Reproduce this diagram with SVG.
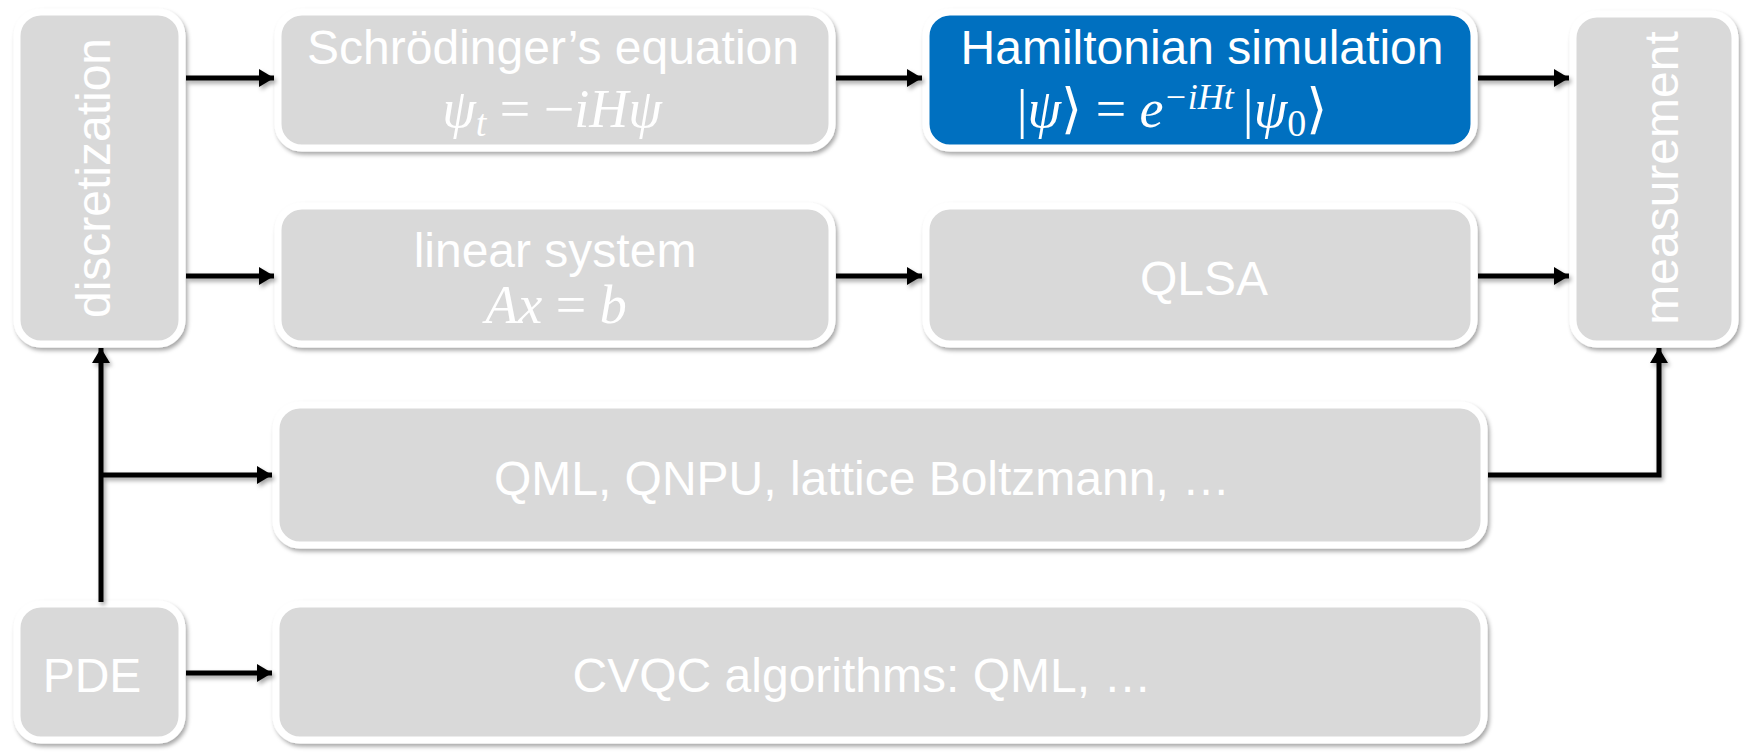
<svg xmlns="http://www.w3.org/2000/svg" width="1752" height="752" viewBox="0 0 1752 752">
<defs>
<filter id="sh" x="-10%" y="-10%" width="120%" height="130%">
<feDropShadow dx="2" dy="3" stdDeviation="2" flood-color="#000" flood-opacity="0.35"/>
</filter>
<marker id="ah" markerUnits="userSpaceOnUse" markerWidth="16" markerHeight="18" refX="15" refY="9" orient="auto">
<path d="M0,0 L15,9 L0,18 Z" fill="#000"/>
</marker>
<style>
.box{fill:#D9D9D9;stroke:#FFFFFF;stroke-width:7;filter:url(#sh)}
.blue{fill:#0070C0}
.t{font-family:"Liberation Sans",Arial,sans-serif;font-size:48px;fill:#FFFFFF;text-anchor:middle}
.m{font-family:"Liberation Serif","DejaVu Serif",serif;font-size:54px;fill:#FFFFFF;text-anchor:middle}
.i{font-style:italic}
.c{fill:none;stroke:#000;stroke-width:5;marker-end:url(#ah)}
</style>
</defs>
<g id="discretization">
<rect class="box" x="17" y="12" width="165" height="332" rx="24"/>
<text class="t" transform="translate(110,178) rotate(-90)">discretization</text>
</g>
<g id="schrodinger">
<rect class="box" x="278" y="12" width="554" height="136" rx="24"/>
<text class="t" x="553" y="64">Schrödinger’s equation</text>
<text class="m" x="552" y="127"><tspan class="i">ψ</tspan><tspan class="i" font-size="38" dy="9">t</tspan><tspan dy="-9"> = −</tspan><tspan class="i">iHψ</tspan></text>
</g>
<g id="hamiltonian">
<rect class="box blue" x="926" y="12" width="548" height="136" rx="24"/>
<text class="t" x="1202" y="64">Hamiltonian simulation</text>
<text class="m" x="1172" y="127">|<tspan class="i">ψ</tspan>⟩ = <tspan class="i">e</tspan><tspan class="i" font-size="36" dy="-18">−iHt </tspan><tspan dy="18">|</tspan><tspan class="i">ψ</tspan><tspan font-size="38" dy="9">0</tspan><tspan dy="-9">⟩</tspan></text>
</g>
<g id="measurement">
<rect class="box" x="1573" y="14" width="162" height="330" rx="24"/>
<text class="t" transform="translate(1678,178) rotate(-90)">measurement</text>
</g>
<g id="linear">
<rect class="box" x="278" y="206" width="554" height="138" rx="24"/>
<text class="t" x="555" y="267">linear system</text>
<text class="m" x="556" y="323"><tspan class="i">Ax</tspan> = <tspan class="i">b</tspan></text>
</g>
<g id="qlsa">
<rect class="box" x="926" y="206" width="548" height="138" rx="24"/>
<text class="t" x="1204" y="295">QLSA</text>
</g>
<g id="qml">
<rect class="box" x="276" y="405" width="1208" height="140" rx="24"/>
<text class="t" x="862" y="495">QML, QNPU, lattice Boltzmann, …</text>
</g>
<g id="pde">
<rect class="box" x="17" y="604" width="165" height="136" rx="24"/>
<text class="t" x="92" y="692" font-size="44">PDE</text>
</g>
<g id="cvqc">
<rect class="box" x="276" y="604" width="1208" height="136" rx="24"/>
<text class="t" x="862" y="692" font-size="46">CVQC algorithms: QML, …</text>
</g>
<g id="connectors" filter="url(#sh)">
<path class="c" d="M186,78 H274"/>
<path class="c" d="M186,276 H274"/>
<path class="c" d="M836,78 H922"/>
<path class="c" d="M836,276 H922"/>
<path class="c" d="M1478,78 H1569"/>
<path class="c" d="M1478,276 H1569"/>
<path class="c" d="M101,602 V348"/>
<path class="c" d="M101,475 H272"/>
<path class="c" d="M186,673 H272"/>
<path class="c" d="M1488,475 H1659 V348"/>
</g>
</svg>
